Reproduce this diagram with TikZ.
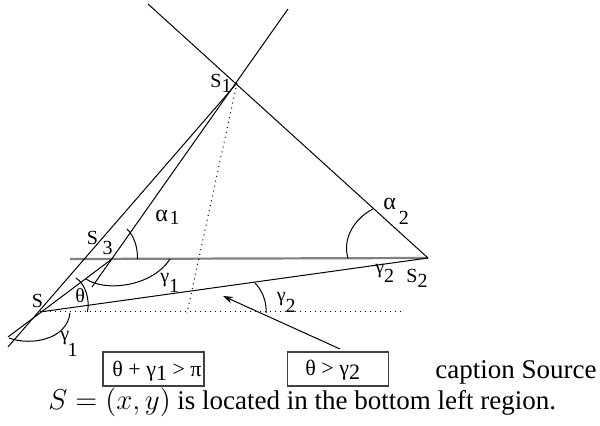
\documentclass[tikz,border=0pt]{standalone}
\usepackage{fontspec}
\setmainfont{Liberation Serif}
\usetikzlibrary{arrows.meta}
\newcommand{\myalpha}{{\fontsize{12}{12}\selectfont α}}
\tikzset{
  ln/.style={line width=0.5pt, black},
  grayln/.style={line width=1.1pt, black!50},
  dotln/.style={line width=0.5pt, black, dotted},
  angarc/.style={line width=0.5pt, black},
  lbl/.style={anchor=base west, inner sep=0pt, font=\fontsize{10}{12}\selectfont},
  boxn/.style={draw=black!75, line width=0.6pt, inner sep=0pt, minimum width=50.5pt, minimum height=17pt},
  boxtxt/.style={anchor=base west, inner sep=0pt, font=\fontsize{11}{12}\selectfont},
  captxt/.style={anchor=base west, inner sep=0pt, font=\fontsize{13.5}{15}\selectfont},
  arr/.style={line width=0.5pt, -{Stealth[length=5pt,width=3.4pt]}}
}
\begin{document}
\begin{tikzpicture}[x=0.5pt,y=-0.5pt]
\useasboundingbox (0,0) rectangle (600,426);
% points
\coordinate (S) at (40,312);
\coordinate (s1) at (237,83);
\coordinate (s2) at (428,258);
\coordinate (P3) at (112,259);
\coordinate (L1a) at (92,287);
\coordinate (L1b) at (288,9);
\coordinate (L2a) at (8,347);
\coordinate (L3a) at (8,337);
\coordinate (T2) at (148,4);
\coordinate (G0) at (70,259);
\coordinate (D1) at (187,313);
\coordinate (D2) at (403,312);
\coordinate (A0) at (340,349);
\coordinate (A1) at (223,296);
% lines
\draw[grayln] (G0) -- (s2);
\draw[ln] (L1a) -- (L1b);
\draw[ln] (L2a) -- (s1);
\draw[ln] (L3a) -- (P3);
\draw[ln] (s2) -- (T2);
\draw[ln] (S) -- (s2);
\draw[dotln] (s1) -- (D1);
\draw[dotln] (S) -- (D2);
% angle arcs
\draw[angarc] (137.5,259) .. controls (137.5,246) and (134,236) .. (127,229);
\draw[angarc] (373,209) .. controls (355,218) and (342,238) .. (348,258.5);
\draw[angarc] (76,278) .. controls (85,284) and (90,298) .. (87.5,312);
\draw[angarc] (255,283) .. controls (262,290) and (267,302) .. (266,313);
\draw[angarc] (170,259) .. controls (152,287) and (105,292) .. (86,279);
\draw[angarc] (70,313) .. controls (67,340) and (30,346) .. (9,338);
% labels
\node[lbl] (ls1) at (210,88) {S\raisebox{-2.5pt}{1}};
\node[lbl] (ls2) at (406,283) {S\raisebox{-2.5pt}{2}};
\node[lbl] (ls3) at (86.5,245) {S\hspace{2.3pt}\raisebox{-5pt}{3}};
\node[lbl] (lS) at (31.5,308) {S};
\node[lbl] (la1) at (155,221.5) {\myalpha\hspace{0.8pt}\raisebox{-1.7pt}{1}};
\node[lbl] (la2) at (383,210) {\myalpha\hspace{1.5pt}\raisebox{-7.5pt}{2}};
\node[lbl] (lg1) at (160,282.5) {γ\raisebox{-5pt}{1}};
\node[lbl] (lg2a) at (375,273.5) {γ\raisebox{-4.7pt}{2}};
\node[lbl] (lg2b) at (276.5,302) {γ\raisebox{-5.5pt}{2}};
\node[lbl] (lth) at (75,303) {θ};
\node[lbl] (lg1b) at (60,341) {γ\hspace{-0.8pt}\raisebox{-8pt}{1}};
% boxes
\node[boxn] (b1) at (153.5,369) {};
\node[boxn] (b2) at (338,369) {};
\node[boxtxt] (t1) at (112,376.5) {θ + γ\raisebox{-2pt}{1} > π};
\node[boxtxt] (t2) at (305,375.5) {θ > γ\raisebox{-2pt}{2}};
% arrow
\draw[arr] (A0) -- (A1);
% caption
\node[captxt] (cap1) at (435,379) {caption Source};
\node[captxt] (cap2) at (48,410) {$S=(x,y)$ is located in the bottom left region.};
\end{tikzpicture}
\end{document}
